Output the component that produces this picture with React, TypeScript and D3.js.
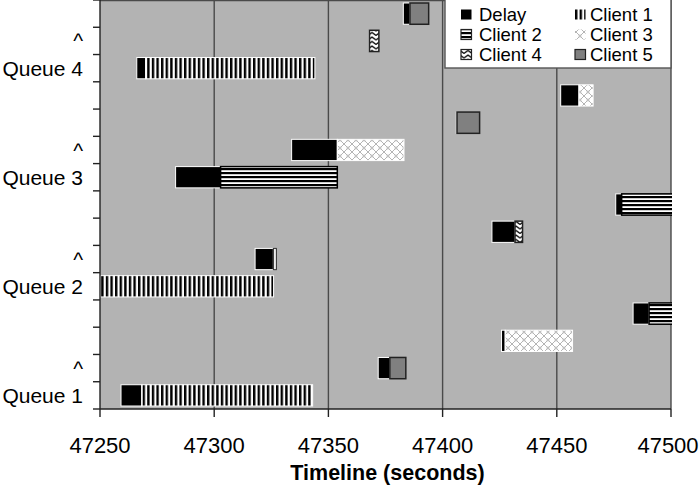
import React from 'react';
import * as d3 from 'd3';

// rows from bottom to top
const rowLabels = ['Queue 1', '^', '', '', 'Queue 2', '^', '', '', 'Queue 3', '^', '', '', 'Queue 4', '^', ''];
// seconds on the timeline
const starts = [47259.2, 47371.8, 47425.8, 47483.4, 47244, 47317.9, 47421.6, 47475.8, 47283.1, 47333.9, 47406.0, 47451.7, 47266.1, 47367.9, 47382.8];
const delays = [9.1, 5.1, 1.6, 7.0, 1.5, 8.0, 10.1, 2.6, 19.7, 20.0, 0.3, 8.0, 3.9, 0.1, 2.9];
const clients = [1, 5, 3, 2, 1, 1, 4, 2, 2, 3, 5, 3, 1, 4, 5];
const service = [74.8, 7.0, 29.5, 30, 80.5, 1.3, 3.3, 30, 51.1, 29.2, 9.9, 6.2, 74.1, 4.1, 8.2];
const xTicks = [47250, 47300, 47350, 47400, 47450, 47500];
const legendItems = ['Delay', 'Client 1', 'Client 2', 'Client 3', 'Client 4', 'Client 5'];

const W = 700;
const H = 486;
const left = 100;
const right = 671;
const top = 0;
const bottom = 409;
const font = '"Liberation Sans", Arial, sans-serif';

const fillFor = (k: string) => {
  if (k === 'Delay') return '#000';
  if (k === 'Client 5') return '#808080';
  return `url(#p${k.slice(-1)})`;
};
const strokeFor = (k: string, w: number) => {
  if (k === 'Client 2') return '#000';
  if (k === 'Client 4' || k === 'Client 5') return '#222';
  if (k === 'Client 1' && w < 4) return '#333';
  return '#fff';
};

export default function App() {
  const x = d3.scaleLinear().domain([47250, 47500]).range([left, right]);
  const y = d3
    .scaleBand<number>()
    .domain(d3.range(rowLabels.length))
    .range([bottom, top])
    .paddingInner(0.22)
    .paddingOuter(0.11);
  const step = y.step();
  const bh = y.bandwidth();

  const bars = starts.flatMap((s, i) => {
    const c = `Client ${clients[i]}`;
    return [
      { row: i, kind: 'Delay', x0: s, x1: s + delays[i] },
      { row: i, kind: c, x0: s + delays[i], x1: s + delays[i] + service[i] },
    ];
  });

  return (
    <svg width={W} height={H} style={{ position: 'absolute', left: 0, top: 0, background: '#fff' }} fontFamily={font}>
      <defs>
        <clipPath id="plot">
          <rect x={left} y={top} width={right - left + 1} height={bottom - top} />
        </clipPath>
        <pattern id="p1" patternUnits="userSpaceOnUse" width={4.6} height={10}>
          <rect width={4.6} height={10} fill="#fff" />
          <rect width={2.4} height={10} fill="#000" />
        </pattern>
        <pattern id="p2" patternUnits="userSpaceOnUse" width={10} height={4}>
          <rect width={10} height={4} fill="#fff" />
          <rect width={10} height={2.2} fill="#000" />
        </pattern>
        <pattern id="p3" patternUnits="userSpaceOnUse" width={8} height={8}>
          <rect width={8} height={8} fill="#fff" />
          <path d="M0,0 L8,8 M8,0 L0,8" stroke="#b4b4b4" strokeWidth={1} />
          <circle cx={4} cy={4} r={1.2} fill="none" stroke="#c8c8c8" strokeWidth={0.8} />
        </pattern>
        <pattern id="p4" patternUnits="userSpaceOnUse" width={8} height={4.5}>
          <rect width={8} height={4.5} fill="#fff" />
          <path d="M0,4 L4,1 L8,4" fill="none" stroke="#000" strokeWidth={1.2} />
        </pattern>
      </defs>

      <rect x={left} y={top} width={right - left} height={bottom - top} fill="#b3b3b3" />
      {xTicks.slice(1).map((t) => (
        <line key={t} x1={x(t)} x2={x(t)} y1={top} y2={bottom} stroke="#4a4a4a" strokeWidth={1.4} />
      ))}
      <line x1={left} x2={right} y1={top + 0.5} y2={top + 0.5} stroke="#4a4a4a" strokeWidth={1.4} />

      <g clipPath="url(#plot)">
        {bars
          .filter((b) => b.x1 - b.x0 > 0)
          .map((b, i) => {
            const w = x(b.x1) - x(b.x0);
            return (
              <rect
                key={i}
                x={x(b.x0)}
                y={y(b.row)!}
                width={w}
                height={bh}
                fill={fillFor(b.kind)}
                stroke={strokeFor(b.kind, w)}
                strokeWidth={b.kind === 'Delay' || b.kind === 'Client 1' || b.kind === 'Client 3' ? 1 : 1.5}
              />
            );
          })}
      </g>

      {/* axes */}
      <line x1={left} x2={left} y1={top} y2={bottom} stroke="#222" strokeWidth={1.4} />
      <line x1={left} x2={right} y1={bottom} y2={bottom} stroke="#222" strokeWidth={1.4} />
      {d3.range(rowLabels.length + 1).map((k) => (
        <line key={k} x1={left - 7} x2={left} y1={bottom - k * step} y2={bottom - k * step} stroke="#222" strokeWidth={1.4} />
      ))}
      {xTicks.map((t) => (
        <g key={t}>
          <line x1={x(t)} x2={x(t)} y1={bottom} y2={bottom + 8} stroke="#222" strokeWidth={1.4} />
          <text x={Math.min(x(t), 668)} y={453} textAnchor="middle" fontSize={22} fill="#000">
            {t}
          </text>
        </g>
      ))}
      {rowLabels.map((l, i) => (
        <text key={i} x={83} y={y(i)! + bh / 2} dy="0.36em" textAnchor="end" fontSize={21} fill="#000">
          {l}
        </text>
      ))}
      <text x={(left + right) / 2 + 2} y={480} textAnchor="middle" fontSize={21.5} fontWeight="bold">
        Timeline (seconds)
      </text>

      {/* legend */}
      <rect x={445} y={-1} width={226} height={69} fill="#fff" stroke="#555" strokeWidth={1.4} />
      {legendItems.map((k, i) => {
        const col = i % 2;
        const row = Math.floor(i / 2);
        const sx = col === 0 ? 461 : 575;
        const cy = 14.5 + row * 20;
        return (
          <g key={k}>
            <rect
              x={sx}
              y={cy - 5}
              width={10.5}
              height={10}
              fill={fillFor(k)}
              stroke={k === 'Client 2' || k === 'Client 4' || k === 'Client 5' ? '#222' : 'none'}
              strokeWidth={1.2}
            />
            <text x={sx + (col === 0 ? 18 : 15)} y={cy} dy="0.36em" fontSize={18.5} fill="#000">
              {k}
            </text>
          </g>
        );
      })}
    </svg>
  );
}
